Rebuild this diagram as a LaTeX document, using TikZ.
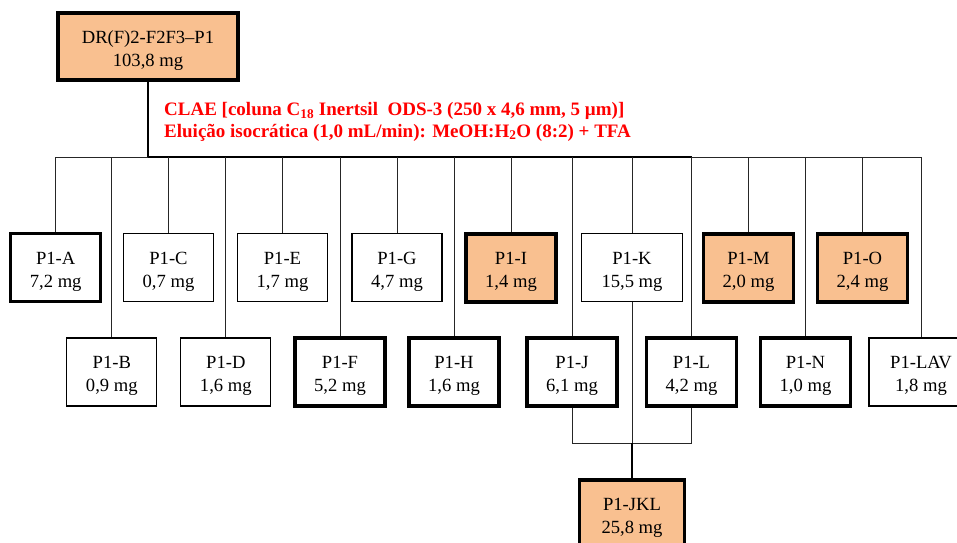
\documentclass[tikz,border=0pt]{standalone}
\usepackage{fontspec}
\setmainfont{Liberation Serif}
\definecolor{peach}{HTML}{F9C090}
\definecolor{redtxt}{HTML}{FF0000}
\newcommand{\twolines}[2]{\raisebox{-3.5pt}[\height][\depth]{\begin{tabular}{@{}c@{}}#1\\#2\end{tabular}}}
\tikzset{
  frac/.style={rectangle, draw=black, inner sep=0pt,
    minimum width=90pt, minimum height=68pt,
    font=\fontsize{18.6}{23.3}\selectfont},
  thin/.style={line width=1.2pt},
  thick/.style={line width=3.2pt},
  hit/.style={fill=peach},
  link/.style={line width=1pt, draw=black!85},
  mainlink/.style={line width=2.2pt},
}
\begin{document}
\begin{tikzpicture}[x=1pt,y=-1pt]
\useasboundingbox (0,0) rectangle (957,542);
% top node
\node[frac, thick, hit, minimum width=180pt, minimum height=67pt] (top) at (148,46.5) {\twolines{DR(F)2-F2F3--P1}{103,8 mg}};
% top row
\node[frac, thick] (A) at (55.7,267.5) {\twolines{P1-A}{7,2 mg}};
\node[frac, thin] (C) at (168.5,267.5) {\twolines{P1-C}{0,7 mg}};
\node[frac, thin] (E) at (282.5,267.5) {\twolines{P1-E}{1,7 mg}};
\node[frac, thin] (G) at (397,267.5) {\twolines{P1-G}{4,7 mg}};
\node[frac, thick, hit] (I) at (511,268) {\twolines{P1-I}{1,4 mg}};
\node[frac, thin, minimum width=101pt] (K) at (632,267.5) {\twolines{P1-K}{15,5 mg}};
\node[frac, thick, hit] (M) at (748.5,268) {\twolines{P1-M}{2,0 mg}};
\node[frac, thick, hit] (O) at (862.5,268) {\twolines{P1-O}{2,4 mg}};
% bottom row
\node[frac, thin] (B) at (111.8,372) {\twolines{P1-B}{0,9 mg}};
\node[frac, thin] (D) at (225.8,372) {\twolines{P1-D}{1,6 mg}};
\node[frac, thick] (F) at (340,372) {\twolines{P1-F}{5,2 mg}};
\node[frac, thick] (H) at (454,372) {\twolines{P1-H}{1,6 mg}};
\node[frac, thick] (J) at (572,372) {\twolines{P1-J}{6,1 mg}};
\node[frac, thick] (L) at (691.5,372) {\twolines{P1-L}{4,2 mg}};
\node[frac, thick] (N) at (805.5,372) {\twolines{P1-N}{1,0 mg}};
\node[frac, thin, minimum width=104pt] (LAV) at (921,372) {\twolines{P1-LAV}{1,8 mg}};
% combined
\node[frac, thick, hit, minimum width=105pt] (JKL) at (632,514) {\twolines{P1-JKL}{25,8 mg}};
% red method text
\node[anchor=base west, inner sep=0pt, text=redtxt,
  font=\bfseries\fontsize{19}{21.3}\selectfont] (method) at (164,115.7)
  {\begin{tabular}[t]{@{}l@{}}CLAE [coluna C\textsubscript{18} Inertsil\ \ ODS-3 (250 x 4,6 mm, 5 µm)]\\
   Eluição isocrática (1,0 mL/min): MeOH:H\textsubscript{2}O (8:2) + TFA\end{tabular}};
% bus coordinates
\coordinate (bus) at (148,157);
\coordinate (busR) at (692,157);
\foreach \n/\x in {A/55.7,B/111.8,C/168.5,D/225.8,E/282.5,F/340,G/397,H/454,I/511,J/572,K/632,L/691.5,M/748.5,N/805.5,O/862.5,LAV/921}
  \coordinate (b\n) at (\x,157);
% trunk and bus
\draw[mainlink] (top.south) -- (bus) -- (busR);
\draw[link] (bA) -- (bus);
\draw[link] (busR) -- (bLAV);
% drops
\foreach \n in {A,B,C,D,E,F,G,H,I,J,K,L,M,N,O,LAV}
  \draw[link] (b\n) -- (\n.north);
% J/K/L merge
\coordinate (jkl) at (632,443);
\draw[link] (J.south) |- (jkl) -| (L.south);
\draw[link] (K.south) -- (jkl);
\draw[line width=1.8pt] (jkl) -- (JKL.north);
\end{tikzpicture}
\end{document}
